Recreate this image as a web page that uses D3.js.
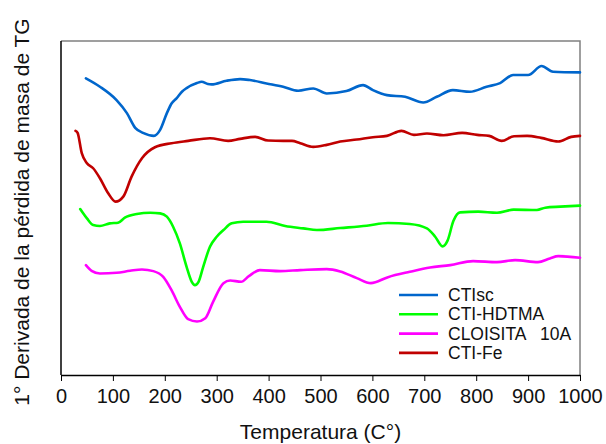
<!DOCTYPE html>
<html>
<head>
<meta charset="utf-8">
<script src="https://cdn.jsdelivr.net/npm/d3@7"></script>
<style>
  html, body { margin: 0; padding: 0; background: #fff; }
  svg { display: block; font-family: "Liberation Sans", Arial, sans-serif; }
</style>
</head>
<body>
<svg id="chart" width="606" height="444"></svg>
<script>
// DTG curves: temperature (°C) and derivative of mass loss (arbitrary units)
const ctiscT = [48, 75, 107, 127, 143, 158, 179, 191, 204, 213, 223, 233, 242, 262, 271, 283, 290, 319, 345, 364, 396, 428, 457, 486, 512, 550, 582, 601, 628, 663, 698, 724, 755, 788, 820, 846, 871, 900, 926, 948, 1000];
const ctiscV = [8.88, 8.63, 8.23, 7.84, 7.40, 7.25, 7.16, 7.34, 7.84, 8.13, 8.29, 8.48, 8.59, 8.74, 8.78, 8.71, 8.70, 8.81, 8.86, 8.83, 8.73, 8.63, 8.51, 8.58, 8.43, 8.50, 8.68, 8.53, 8.38, 8.33, 8.16, 8.33, 8.53, 8.48, 8.63, 8.74, 8.98, 8.98, 9.25, 9.08, 9.06];

const hdtmaT = [37, 50, 62, 75, 94, 110, 123, 146, 172, 191, 204, 216, 229, 242, 252, 258, 265, 274, 287, 300, 313, 329, 351, 396, 432, 467, 493, 538, 589, 630, 672, 705, 721, 735, 745, 756, 769, 804, 840, 872, 917, 933, 962, 1000];
const hdtmaV = [4.97, 4.69, 4.49, 4.46, 4.54, 4.56, 4.71, 4.82, 4.86, 4.84, 4.74, 4.44, 3.94, 3.24, 2.79, 2.69, 2.79, 3.24, 3.84, 4.14, 4.34, 4.54, 4.59, 4.59, 4.46, 4.39, 4.34, 4.40, 4.47, 4.55, 4.52, 4.39, 4.14, 3.85, 4.03, 4.61, 4.87, 4.89, 4.86, 4.95, 4.94, 5.01, 5.04, 5.07];

const cloisitaT = [48, 59, 75, 107, 133, 156, 178, 197, 213, 229, 245, 262, 278, 293, 313, 326, 347, 362, 383, 422, 461, 512, 538, 570, 597, 630, 672, 711, 750, 794, 840, 875, 919, 942, 958, 1000];
const cloisitaV = [3.29, 3.12, 3.04, 3.06, 3.12, 3.16, 3.11, 2.94, 2.54, 2.04, 1.67, 1.60, 1.70, 2.19, 2.75, 2.83, 2.79, 2.96, 3.14, 3.11, 3.14, 3.17, 3.10, 2.90, 2.75, 2.93, 3.09, 3.22, 3.29, 3.41, 3.38, 3.44, 3.38, 3.49, 3.56, 3.51];

const ctiFeT = [28, 32, 40, 50, 62, 75, 91, 105, 120, 136, 156, 181, 213, 245, 287, 322, 345, 374, 399, 428, 445, 461, 486, 512, 538, 570, 601, 628, 656, 680, 705, 737, 773, 802, 825, 849, 873, 898, 925, 958, 983, 1000];
const ctiFeV = [7.31, 7.25, 6.64, 6.34, 6.19, 5.89, 5.44, 5.19, 5.34, 5.94, 6.49, 6.82, 6.94, 7.01, 7.09, 7.01, 7.07, 7.13, 7.02, 7.01, 7.01, 6.94, 6.83, 6.89, 6.99, 7.05, 7.12, 7.16, 7.31, 7.19, 7.23, 7.18, 7.25, 7.19, 7.16, 7.01, 7.15, 7.16, 7.10, 6.99, 7.13, 7.16];

const xTicks = [0, 100, 200, 300, 400, 500, 600, 700, 800, 900, 1000];
const seriesNames = ["CTIsc", "CTI-HDTMA", "CLOISITA   10A", "CTI-Fe"];
const seriesColors = ["#0066cc", "#00ff00", "#ff00ff", "#c00000"];

const series = [
  { name: seriesNames[0], color: seriesColors[0], t: ctiscT, v: ctiscV },
  { name: seriesNames[1], color: seriesColors[1], t: hdtmaT, v: hdtmaV },
  { name: seriesNames[2], color: seriesColors[2], t: cloisitaT, v: cloisitaV },
  { name: seriesNames[3], color: seriesColors[3], t: ctiFeT, v: ctiFeV }
];

const svg = d3.select("#chart");
const m = { left: 61, right: 580, top: 41, bottom: 375 };

const x = d3.scaleLinear().domain([0, 1000]).range([m.left, m.right]);
const y = d3.scaleLinear().domain([0, 10]).range([m.bottom, m.top]);

// top and right frame lines
svg.append("path")
  .attr("d", `M${m.left},${m.top}H${m.right}V${m.bottom}`)
  .attr("fill", "none").attr("stroke", "#808080").attr("stroke-width", 1.5);

// left axis line (no ticks)
svg.append("line")
  .attr("x1", m.left).attr("x2", m.left).attr("y1", m.top).attr("y2", m.bottom)
  .attr("stroke", "#000").attr("stroke-width", 1.5);

// bottom axis
const xAxis = svg.append("g")
  .attr("transform", `translate(0,${m.bottom})`)
  .call(d3.axisBottom(x).tickValues(xTicks).tickFormat(d3.format("d"))
    .tickSize(6).tickSizeOuter(0).tickPadding(8));
xAxis.select(".domain").attr("stroke", "#000").attr("stroke-width", 1.5);
xAxis.selectAll(".tick line").attr("stroke", "#000").attr("stroke-width", 1);
xAxis.selectAll(".tick text")
  .attr("font-family", "Liberation Sans, Arial, sans-serif")
  .attr("font-size", 20).attr("fill", "#111");

// curves
const line = d3.line()
  .x(d => x(d[0])).y(d => y(d[1]))
  .curve(d3.curveMonotoneX);

series.forEach(s => {
  svg.append("path")
    .datum(s.t.map((t, i) => [t, s.v[i]]))
    .attr("d", line)
    .attr("fill", "none")
    .attr("stroke", s.color)
    .attr("stroke-width", 2.6)
    .attr("stroke-linejoin", "round")
    .attr("stroke-linecap", "round");
});

// legend
const legend = svg.append("g").attr("transform", "translate(399,295)");
series.forEach((s, i) => {
  const g = legend.append("g").attr("transform", `translate(0,${i * 19.3})`);
  g.append("line").attr("x1", 0).attr("x2", 39).attr("y1", 0).attr("y2", 0)
    .attr("stroke", s.color).attr("stroke-width", 2.6);
  g.append("text").attr("x", 49).attr("y", 6)
    .attr("font-size", 17.5).attr("fill", "#111")
    .style("white-space", "pre")
    .text(s.name);
});

// axis titles
svg.append("text")
  .attr("x", (m.left + m.right) / 2).attr("y", 439)
  .attr("text-anchor", "middle").attr("font-size", 21).attr("fill", "#111")
  .text("Temperatura (C°)");

svg.append("text")
  .attr("transform", "translate(29,212) rotate(-90)")
  .attr("text-anchor", "middle").attr("font-size", 21).attr("fill", "#111")
  .text("1° Derivada de la pérdida de masa de TG");
</script>
</body>
</html>
